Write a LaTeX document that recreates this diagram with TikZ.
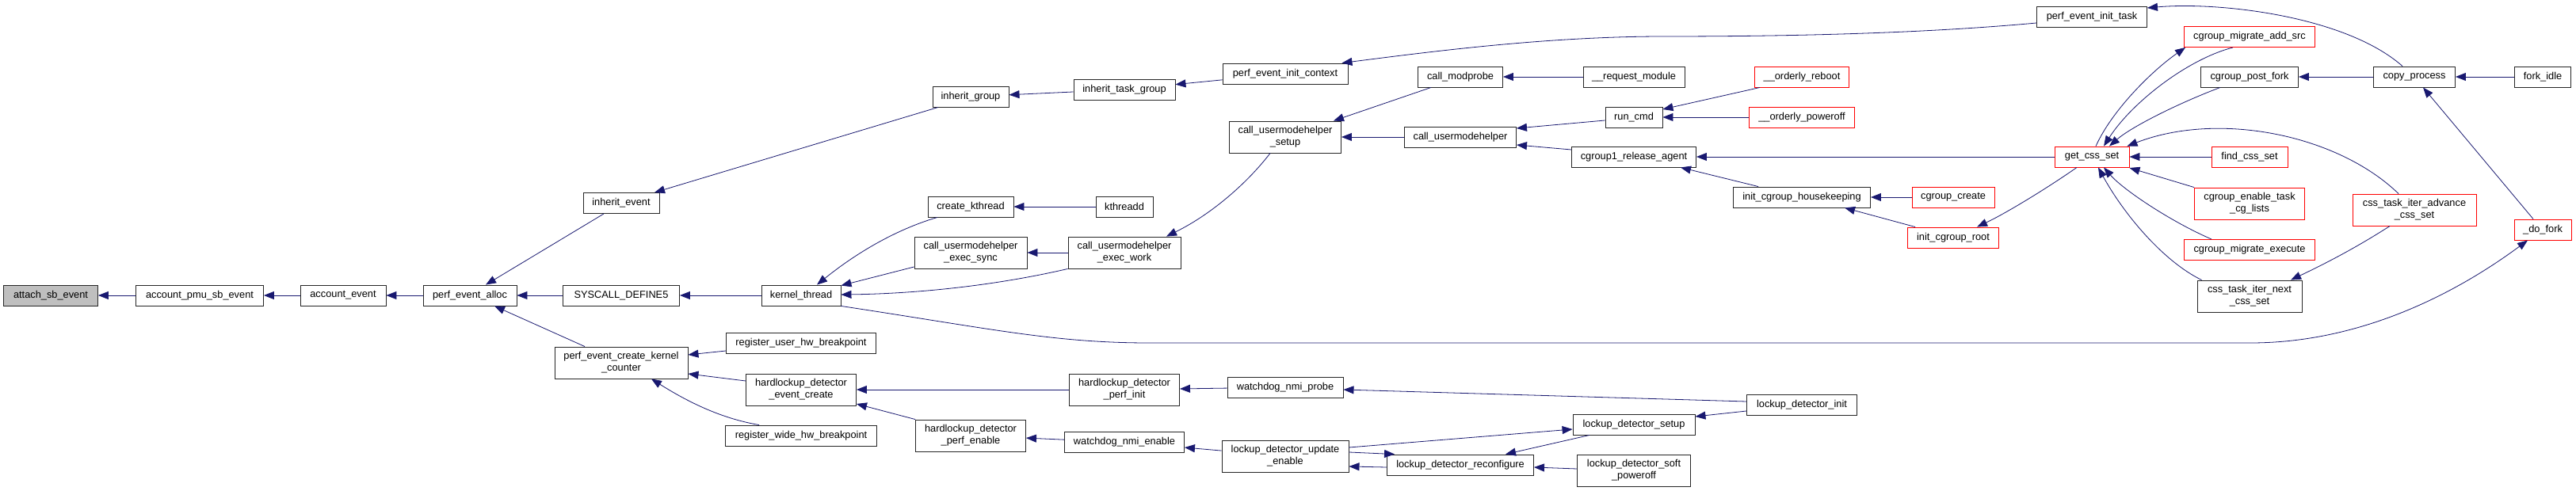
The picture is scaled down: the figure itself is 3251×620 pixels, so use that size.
\documentclass[tikz,border=0pt]{standalone}
\usepackage{fontspec}
\setmainfont{Liberation Sans}
\usetikzlibrary{arrows.meta}
\definecolor{edgeblue}{HTML}{191970}
\tikzstyle{func} = [
    rectangle,
    minimum height=26pt,
    inner sep=0pt,
    draw=black!85,
    line width=0.9pt,
    fill=white
]
\tikzstyle{func2} = [
    func,
    minimum height=40pt,
    align=center
]
\tikzstyle{rootfunc} = [func, fill=black!25]
\tikzstyle{trunc} = [draw=red]
\tikzstyle{arrow} = [edgeblue, line width=0.8pt, ->, >={Triangle[length=13pt,width=10pt]}]

\begin{document}
\begin{tikzpicture}[x=1pt, y=-1pt, every node/.style={font=\fontsize{12.8}{15}\selectfont}]

\fill [white] (0,0) rectangle (3251,620);
\useasboundingbox (0,0) rectangle (3251,620);

% chain from the root
\node (attach) [rootfunc, minimum width=119pt] at (64,373) {attach\_sb\_event};
\node (pmusb) [func, minimum width=161pt] at (252,373) {account\_pmu\_sb\_event};
\node (account) [func, minimum width=108pt] at (433,373) {account\_event};
\node (alloc) [func, minimum width=118pt] at (593,373) {perf\_event\_alloc};

\node (inhevent) [func, minimum width=96pt] at (784,256.5) {inherit\_event};
\node (syscall) [func, minimum width=147pt] at (784,373) {SYSCALL\_DEFINE5};
\node (kcounter) [func2, minimum width=168pt] at (784,458) {perf\_event\_create\_kernel\\\_counter};

\node (kthread) [func, minimum width=100pt] at (1011,373) {kernel\_thread};
\node (userbp) [func, minimum width=189pt] at (1011,433) {register\_user\_hw\_breakpoint};
\node (hdcreate) [func2, minimum width=139pt] at (1011,492) {hardlockup\_detector\\\_event\_create};
\node (widebp) [func, minimum width=191pt] at (1011,550) {register\_wide\_hw\_breakpoint};

\node (inhgroup) [func, minimum width=96pt] at (1225,122) {inherit\_group};
\node (ckthread) [func, minimum width=108pt] at (1225,261) {create\_kthread};
\node (execsync) [func2, minimum width=142pt] at (1225,319) {call\_usermodehelper\\\_exec\_sync};
\node (hdenable) [func2, minimum width=139pt] at (1225,550) {hardlockup\_detector\\\_perf\_enable};

\node (inhtask) [func, minimum width=128pt] at (1419,113) {inherit\_task\_group};
\node (kthreadd) [func, minimum width=72pt] at (1419,261) {kthreadd};
\node (execwork) [func2, minimum width=142pt] at (1419,319) {call\_usermodehelper\\\_exec\_work};
\node (hdinit) [func2, minimum width=139pt] at (1419,492) {hardlockup\_detector\\\_perf\_init};
\node (nmienable) [func, minimum width=151pt] at (1419,558.5) {watchdog\_nmi\_enable};

\node (initctx) [func, minimum width=158pt] at (1622,93) {perf\_event\_init\_context};
\node (umhsetup) [func2, minimum width=141pt] at (1622,173) {call\_usermodehelper\\\_setup};
\node (nmiprobe) [func, minimum width=146pt] at (1622,489) {watchdog\_nmi\_probe};
\node (updenable) [func2, minimum width=160pt] at (1622,576) {lockup\_detector\_update\\\_enable};

\node (modprobe) [func, minimum width=107pt] at (1843,97) {call\_modprobe};
\node (umh) [func, minimum width=141pt] at (1843,173) {call\_usermodehelper};
\node (reconf) [func, minimum width=185pt] at (1843,587) {lockup\_detector\_reconfigure};

\node (reqmod) [func, minimum width=128pt] at (2062,97) {\_\_request\_module};
\node (runcmd) [func, minimum width=72pt] at (2062,148) {run\_cmd};
\node (relagent) [func, minimum width=157pt] at (2062,198) {cgroup1\_release\_agent};
\node (ldsetup) [func, minimum width=154pt] at (2062,536) {lockup\_detector\_setup};
\node (softoff) [func2, minimum width=143pt] at (2062,594) {lockup\_detector\_soft\\\_poweroff};

\node (reboot) [func, trunc, minimum width=119pt] at (2274,97) {\_\_orderly\_reboot};
\node (poweroff) [func, trunc, minimum width=133pt] at (2274,148) {\_\_orderly\_poweroff};
\node (housekeep) [func, minimum width=173pt] at (2274,249) {init\_cgroup\_housekeeping};
\node (ldinit) [func, minimum width=139pt] at (2274,511) {lockup\_detector\_init};

\node (cgcreate) [func, trunc, minimum width=104pt] at (2465,249) {cgroup\_create};
\node (cgroot) [func, trunc, minimum width=115pt] at (2465,300) {init\_cgroup\_root};

\node (inittask) [func, minimum width=139pt] at (2640,21) {perf\_event\_init\_task};
\node (getcss) [func, trunc, minimum width=94pt] at (2640,198) {get\_css\_set};

\node (addsrc) [func, trunc, minimum width=165pt] at (2839,46.5) {cgroup\_migrate\_add\_src};
\node (postfork) [func, minimum width=123pt] at (2839,97) {cgroup\_post\_fork};
\node (findcss) [func, trunc, minimum width=96pt] at (2839,198) {find\_css\_set};
\node (cglists) [func2, trunc, minimum width=139pt] at (2839,257) {cgroup\_enable\_task\\\_cg\_lists};
\node (migexec) [func, trunc, minimum width=165pt] at (2839,315.5) {cgroup\_migrate\_execute};
\node (iternext) [func2, minimum width=132pt] at (2839,374) {css\_task\_iter\_next\\\_css\_set};

\node (copyproc) [func, minimum width=103pt] at (3047,97) {copy\_process};
\node (iteradv) [func2, trunc, minimum width=156pt] at (3047,265) {css\_task\_iter\_advance\\\_css\_set};

\node (forkidle) [func, minimum width=71pt] at (3209,97) {fork\_idle};
\node (dofork) [func, trunc, minimum width=72pt] at (3209,290) {\_do\_fork};

% callers
\draw [arrow] (pmusb) -- (attach);
\draw [arrow] (account) -- (pmusb);
\draw [arrow] (alloc) -- (account);
\draw [arrow] ([xshift=-22pt]inhevent.south) -- ([xshift=20pt]alloc.north);
\draw [arrow] (syscall) -- (alloc);
\draw [arrow] ([xshift=-46pt]kcounter.north) -- ([xshift=31pt]alloc.south);
\draw [arrow] ([xshift=-41pt]inhgroup.south) -- ([xshift=42pt]inhevent.north);
\draw [arrow] (inhtask) -- (inhgroup);
\draw [arrow] (initctx) -- (inhtask);
\draw [arrow] ([yshift=-8pt]inittask.west) .. controls (2450,40) and (2300,46) .. (2100,46) .. controls (1950,46) and (1800,66) .. ([xshift=-8pt]initctx.north east);
\draw [arrow] ([xshift=-15pt]copyproc.north) .. controls (2960,20) and (2800,2) .. ([yshift=11pt]inittask.east);

\draw [arrow] (kthread) -- (syscall);
\draw [arrow] ([xshift=-42pt]ckthread.south) .. controls (1130,290) and (1080,320) .. ([xshift=20pt]kthread.north);
\draw [arrow] ([yshift=-18pt]execsync.west) -- ([yshift=-1pt]kthread.north east);
\draw [arrow] (execwork.south west) .. controls (1250,362) and (1150,371) .. ([yshift=1pt]kthread.east);
\draw [arrow] (kthread.south east) .. controls (1250,415) and (1330,433) .. (1450,433) -- (2840,433) .. controls (2980,433) and (3100,370) .. ([xshift=-19pt]dofork.south);

\draw [arrow] ([yshift=-10pt]userbp.west) -- ([yshift=10pt]kcounter.east);
\draw [arrow] ([yshift=11pt]hdcreate.west) -- ([yshift=-14pt]kcounter.east);
\draw [arrow] ([xshift=-53pt]widebp.north) .. controls (920,530) and (880,515) .. ([xshift=38pt]kcounter.south);

\draw [arrow] (hdinit) -- (hdcreate);
\draw [arrow] (hdenable.north west) -- ([yshift=-18pt]hdcreate.east);
\draw [arrow] (nmiprobe) -- (hdinit);
\draw [arrow] ([yshift=4pt]ldinit.west) -- ([yshift=-3pt]nmiprobe.east);
\draw [arrow] ([yshift=-8pt]ldinit.west) -- ([yshift=10pt]ldsetup.east);
\draw [arrow] (nmienable) -- (hdenable);
\draw [arrow] (updenable) -- (nmienable);
\draw [arrow] ([yshift=-3pt]reconf.west) -- ([yshift=-13pt]updenable.east);
\draw [arrow] ([yshift=5pt]updenable.east) -- ([xshift=10pt]reconf.north west);
\draw [arrow] ([yshift=11pt]updenable.east) -- ([yshift=-6pt]ldsetup.west);
\draw [arrow] ([xshift=-56pt]ldsetup.south) -- ([xshift=57pt]reconf.north);
\draw [arrow] ([yshift=2pt]softoff.west) -- ([yshift=-3pt]reconf.east);

\draw [arrow] (kthreadd) -- (ckthread);
\draw [arrow] (execwork) -- (execsync);
\draw [arrow] ([xshift=-19pt]umhsetup.south) .. controls (1575,230) and (1530,270) .. ([xshift=53pt]execwork.north);
\draw [arrow] ([xshift=-37pt]modprobe.south) -- ([xshift=-10pt]umhsetup.north east);
\draw [arrow] (reqmod) -- (modprobe);
\draw [arrow] (umh) -- (umhsetup);
\draw [arrow] ([yshift=-4pt]runcmd.west) -- ([yshift=11pt]umh.east);
\draw [arrow] ([yshift=9pt]relagent.west) -- ([yshift=-10pt]umh.east);
\draw [arrow] ([xshift=-53pt]reboot.south) -- ([yshift=10pt]runcmd.east);
\draw [arrow] (poweroff) -- (runcmd);
\draw [arrow] (getcss) -- (relagent);
\draw [arrow] ([xshift=-55pt]housekeep.north) -- ([xshift=-20pt]relagent.south east);
\draw [arrow] (cgcreate) -- (housekeep);
\draw [arrow] ([xshift=-48pt]cgroot.north) -- ([xshift=54pt]housekeep.south);
\draw [arrow] ([xshift=-19pt]getcss.south) .. controls (2580,240) and (2530,270) .. ([xshift=30pt]cgroot.north);

\draw [arrow] ([xshift=5pt]getcss.north) .. controls (2665,140) and (2715,90) .. ([xshift=2pt]addsrc.south west);
\draw [arrow] ([xshift=-21pt]addsrc.south) .. controls (2760,75) and (2690,130) .. ([xshift=15pt]getcss.north);
\draw [arrow] ([xshift=-37pt]postfork.south) .. controls (2750,130) and (2690,160) .. ([xshift=22pt]getcss.north);
\draw [arrow] ([xshift=-20pt]iteradv.north) .. controls (2950,170) and (2800,140) .. ([xshift=-3pt]getcss.north east);
\draw [arrow] (findcss) -- (getcss);
\draw [arrow] (cglists.north west) -- ([yshift=-14pt]getcss.east);
\draw [arrow] ([xshift=-48pt]migexec.north) .. controls (2740,280) and (2680,240) .. ([xshift=15pt]getcss.south);
\draw [arrow] ([xshift=6pt]iternext.north west) .. controls (2730,330) and (2680,270) .. ([xshift=8pt]getcss.south);
\draw [arrow] ([xshift=-31pt]iteradv.south) .. controls (2970,315) and (2930,335) .. ([xshift=52pt]iternext.north);
\draw [arrow] (copyproc) -- (postfork);
\draw [arrow] (forkidle) -- (copyproc);
\draw [arrow] ([xshift=-12pt]dofork.north) -- ([xshift=11pt]copyproc.south);

\end{tikzpicture}
\end{document}
